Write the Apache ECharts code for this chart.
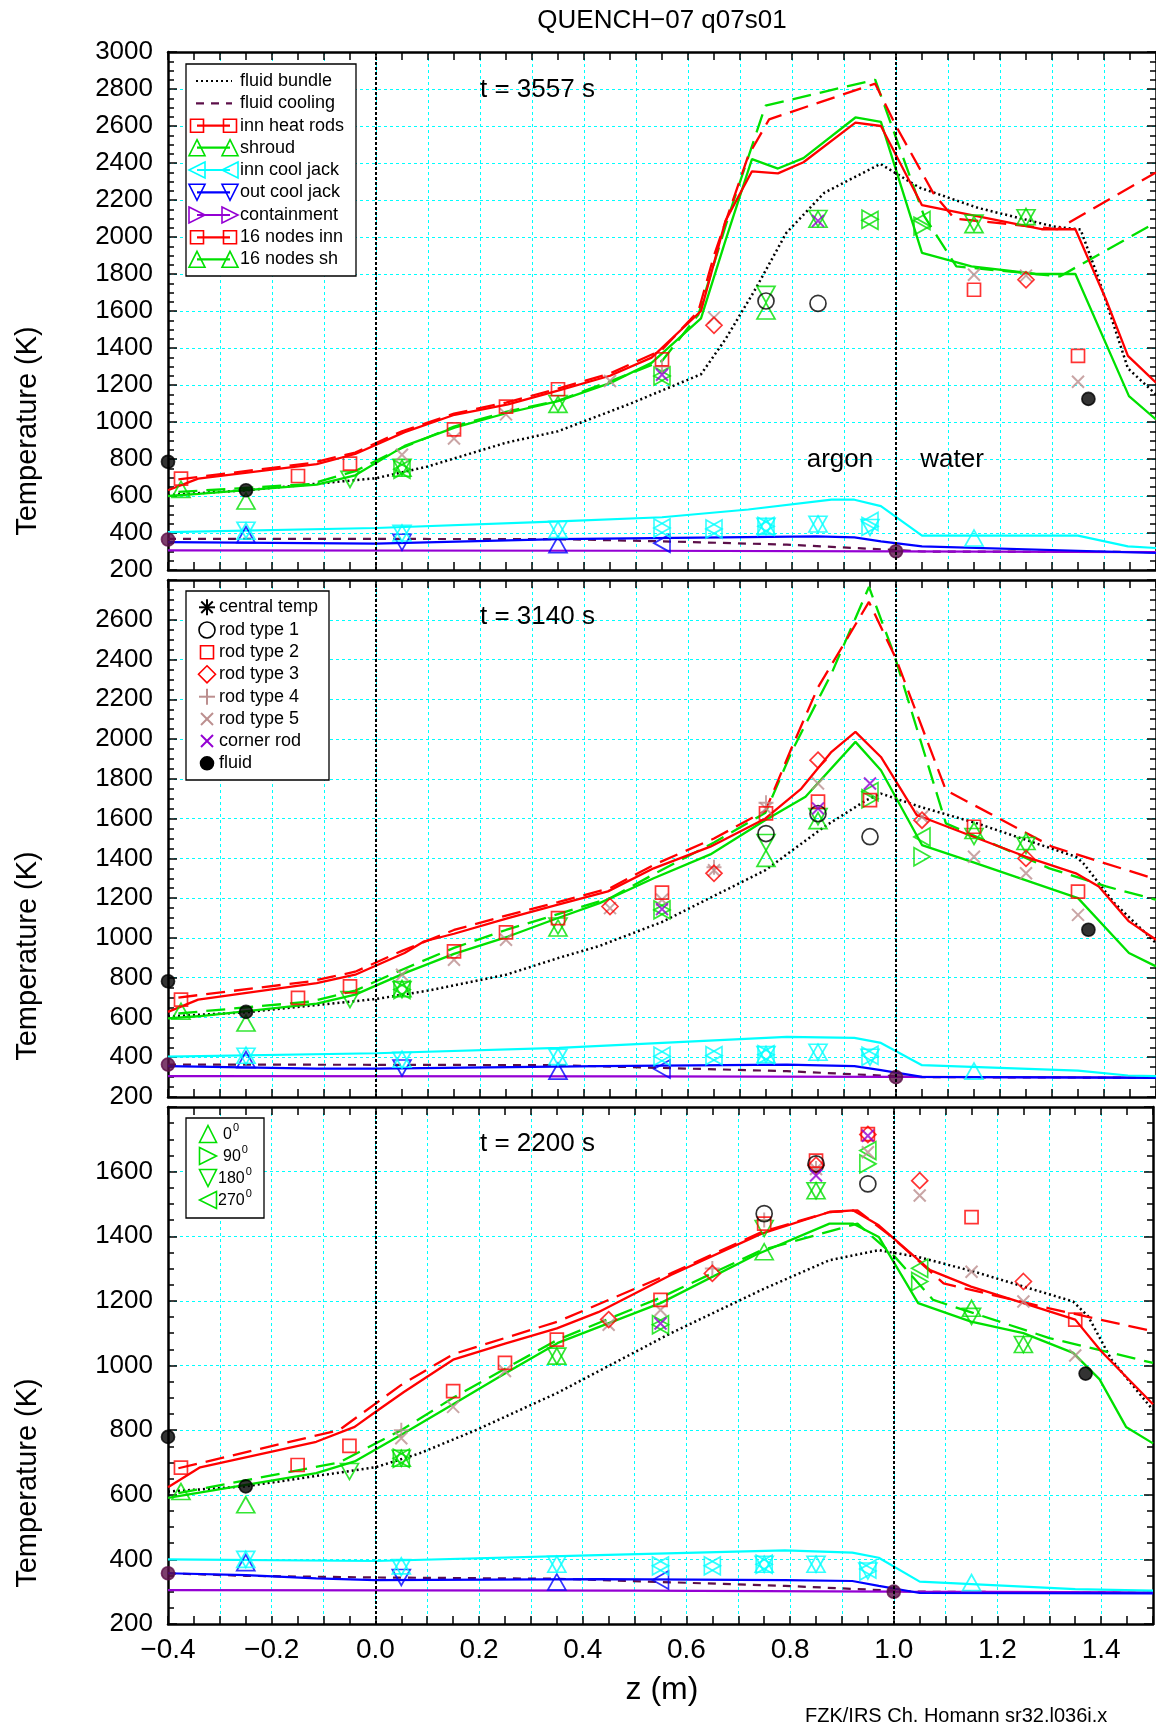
<!DOCTYPE html>
<html>
<head>
<meta charset="utf-8">
<title>QUENCH-07 q07s01</title>
<script src="https://cdn.jsdelivr.net/npm/echarts@6/dist/echarts.min.js"></script>
<style>
html,body{margin:0;padding:0;background:#fff;}
#chart{width:1156px;height:1726px;}
</style>
</head>
<body>
<div id="chart"></div>
<script>
// ---------------- data: axial temperature profiles, z (m) vs T (K) ----------------

// t = 3557 s : calculated profiles
const fluidBundle3557 = [[-0.4,605],[-0.25,631],[0.0,696],[0.1,760],[0.25,888],[0.35,950],[0.49,1100],[0.625,1258],[0.672,1447],[0.73,1720],[0.789,2022],[0.862,2239],[0.97,2395],[1.045,2267],[1.158,2157],[1.303,2057],[1.355,2040],[1.39,1772],[1.446,1290],[1.5,1149]];
const fluidCooling3557 = [[-0.4,368],[0.0,368],[0.35,367],[0.55,355],[0.79,337],[1.0,308],[1.05,300],[1.5,297]];
const innHeatRods3557 = [[-0.4,631],[-0.342,694],[-0.114,772],[-0.04,827],[0.055,945],[0.151,1039],[0.254,1095],[0.35,1170],[0.45,1250],[0.53,1348],[0.625,1600],[0.672,2087],[0.723,2355],[0.773,2344],[0.822,2404],[0.922,2618],[0.971,2600],[1.05,2172],[1.28,2042],[1.345,2042],[1.404,1661],[1.446,1357],[1.5,1213]];
const shroud3557 = [[-0.4,600],[-0.342,612],[-0.114,662],[-0.04,712],[0.055,871],[0.151,970],[0.254,1050],[0.35,1113],[0.45,1210],[0.53,1320],[0.625,1560],[0.672,1980],[0.723,2421],[0.773,2370],[0.822,2426],[0.922,2646],[0.971,2622],[1.05,1914],[1.145,1841],[1.27,1800],[1.345,1800],[1.448,1140],[1.5,1014]];
const innCoolJack3557 = [[-0.4,405],[0.0,427],[0.352,463],[0.55,485],[0.716,527],[0.876,580],[0.92,580],[0.971,545],[1.05,386],[1.35,386],[1.446,328],[1.5,319]];
const outCoolJack3557 = [[-0.4,351],[0.0,343],[0.35,367],[0.847,382],[0.92,376],[0.971,355],[1.05,328],[1.5,292]];
const containment3557 = [[-0.4,306],[0.5,304],[1.0,301],[1.5,297]];
const nodesInn3557 = [[-0.38,690],[-0.125,778],[-0.04,835],[0.05,950],[0.15,1045],[0.25,1105],[0.35,1180],[0.45,1262],[0.55,1390],[0.62,1600],[0.65,1900],[0.716,2440],[0.756,2636],[0.96,2829],[1.0,2600],[1.072,2236],[1.112,2100],[1.31,2042],[1.5,2349]];
const nodesSh3557 = [[-0.38,622],[-0.125,665],[-0.04,735],[0.05,860],[0.15,975],[0.25,1055],[0.35,1115],[0.45,1220],[0.55,1330],[0.62,1580],[0.68,2130],[0.749,2710],[0.96,2850],[1.054,2114],[1.116,1841],[1.315,1787],[1.5,2079]];

// t = 3557 s : measurements
const fluid3557 = [[-0.4,785],[-0.25,631],[1.37,1125]];
const fluidCoolPts3557 = [[-0.4,365],[1.0,301]];
const rod1_3557 = [[0.75,1654],[0.85,1641]];
const rod2_3557 = [[-0.375,694],[-0.15,708],[-0.05,775],[0.15,960],[0.25,1083],[0.35,1177],[0.55,1339],[1.15,1715],[1.35,1357]];
const rod3_3557 = [[0.65,1523],[1.25,1769]];
const rod4_3557 = [[0.55,1300]];
const rod5_3557 = [[0.05,823],[0.15,911],[0.25,1041],[0.45,1222],[0.65,1564],[1.15,1796],[1.25,1791],[1.35,1218]];
const corner3557 = [[0.55,1255],[0.85,2087]];
const sh0_3557 = [[-0.375,636],[-0.25,573],[0.05,750],[0.35,1095],[0.75,1600],[0.85,2096],[1.15,2067],[1.25,2110]];
const sh90_3557 = [[0.05,745],[0.55,1249],[0.95,2096],[1.05,2059]];
const sh180_3557 = [[-0.05,690],[0.05,755],[0.35,1100],[0.75,1690],[0.85,2100],[1.15,2075],[1.25,2104]];
const sh270_3557 = [[0.05,745],[0.55,1249],[0.95,2090],[1.05,2089]];
const icj0_3557 = [[-0.25,410],[0.05,400],[0.35,418],[0.75,436],[0.85,449],[1.15,373]];
const icj90_3557 = [[0.55,427],[0.65,422],[0.75,436],[0.95,436]];
const icj180_3557 = [[-0.25,415],[0.05,398],[0.35,420],[0.75,436],[0.85,447],[0.95,430]];
const icj270_3557 = [[0.55,427],[0.65,422],[0.75,436],[0.95,462]];
const ocj0_3557 = [[-0.25,391],[0.35,337]];
const ocj180_3557 = [[0.05,350]];
const ocj270_3557 = [[0.55,345]];

// t = 3140 s : calculated profiles
const fluidBundle3140 = [[-0.4,605],[-0.25,626],[0.0,693],[0.1,735],[0.25,815],[0.352,900],[0.43,960],[0.55,1080],[0.749,1341],[0.862,1559],[0.943,1693],[0.971,1726],[1.047,1659],[1.156,1576],[1.346,1408],[1.36,1376],[1.42,1175],[1.5,974]];
const fluidCooling3140 = [[-0.4,363],[0.0,362],[0.35,360],[0.55,346],[0.79,330],[1.0,304],[1.05,300],[1.5,297]];
const innHeatRods3140 = [[-0.4,628],[-0.342,690],[-0.114,773],[-0.04,815],[0.055,924],[0.092,982],[0.15,1021],[0.254,1100],[0.35,1167],[0.446,1234],[0.534,1350],[0.643,1459],[0.749,1601],[0.818,1751],[0.876,1936],[0.922,2036],[0.971,1910],[1.04,1618],[1.065,1593],[1.149,1509],[1.25,1408],[1.346,1325],[1.39,1259],[1.448,1083],[1.5,991]];
const shroud3140 = [[-0.4,595],[-0.342,606],[-0.114,670],[-0.04,715],[0.055,823],[0.15,920],[0.254,1007],[0.35,1100],[0.43,1175],[0.534,1300],[0.643,1420],[0.749,1593],[0.826,1710],[0.922,1986],[0.971,1843],[1.05,1467],[1.149,1380],[1.35,1200],[1.448,924],[1.5,857]];
const innCoolJack3140 = [[-0.4,403],[0.0,420],[0.352,447],[0.79,502],[0.92,497],[0.971,472],[1.05,360],[1.35,333],[1.446,308],[1.5,305]];
const outCoolJack3140 = [[-0.4,355],[-0.114,343],[0.0,343],[0.43,355],[0.79,363],[0.92,355],[0.971,335],[1.05,301],[1.5,296]];
const containment3140 = [[-0.4,305],[0.5,304],[1.0,301],[1.5,298]];
const nodesInn3140 = [[-0.38,700],[-0.125,782],[-0.04,830],[0.05,935],[0.15,1040],[0.25,1112],[0.35,1180],[0.45,1250],[0.534,1367],[0.65,1500],[0.749,1640],[0.8,1960],[0.85,2260],[0.948,2690],[1.0,2404],[1.096,1743],[1.3,1459],[1.5,1295]];
const nodesSh3140 = [[-0.38,620],[-0.125,680],[-0.04,735],[0.05,840],[0.15,950],[0.25,1040],[0.35,1120],[0.45,1200],[0.534,1320],[0.65,1480],[0.749,1630],[0.8,1940],[0.876,2330],[0.948,2765],[0.996,2429],[1.096,1576],[1.295,1350],[1.404,1259],[1.5,1192]];

// t = 3140 s : measurements
const fluid3140 = [[-0.4,782],[-0.25,628],[1.37,1041]];
const fluidCoolPts3140 = [[-0.4,363],[1.0,300]];
const rod1_3140 = [[0.75,1525],[0.85,1625],[0.95,1509]];
const rod2_3140 = [[-0.375,690],[-0.15,698],[-0.05,756],[0.15,932],[0.25,1028],[0.35,1100],[0.55,1228],[0.75,1626],[0.85,1685],[0.95,1693],[1.15,1559],[1.35,1233]];
const rod3_3140 = [[0.45,1158],[0.65,1325],[0.85,1894],[1.05,1592],[1.25,1400]];
const rod4_3140 = [[0.65,1355],[0.75,1680]];
const rod5_3140 = [[0.05,815],[0.15,890],[0.25,991],[0.45,1150],[0.55,1192],[0.65,1340],[0.75,1651],[0.85,1777],[1.05,1609],[1.15,1408],[1.25,1325],[1.35,1116]];
const corner3140 = [[0.55,1145],[0.85,1651],[0.95,1777]];
const sh0_3140 = [[-0.375,631],[-0.25,572],[0.05,745],[0.35,1050],[0.75,1400],[0.85,1590],[1.15,1540],[1.25,1485]];
const sh90_3140 = [[0.05,740],[0.55,1141],[0.95,1700],[1.05,1408]];
const sh180_3140 = [[-0.05,690],[0.05,740],[0.35,1060],[0.75,1480],[0.85,1610],[1.15,1510],[1.25,1465]];
const sh270_3140 = [[0.05,740],[0.55,1141],[0.95,1735],[1.05,1508]];
const icj0_3140 = [[-0.25,410],[0.05,390],[0.35,403],[0.75,413],[0.85,425],[1.15,330]];
const icj90_3140 = [[0.55,405],[0.65,408],[0.75,413],[0.95,405]];
const icj180_3140 = [[-0.25,405],[0.05,385],[0.35,400],[0.75,413],[0.85,425],[0.95,400]];
const icj270_3140 = [[0.55,405],[0.65,408],[0.75,413],[0.95,410]];
const ocj0_3140 = [[-0.25,388],[0.35,330]];
const ocj180_3140 = [[0.05,346]];
const ocj270_3140 = [[0.55,341]];

// t = 2200 s : calculated profiles
const fluidBundle2200 = [[-0.4,610],[-0.25,626],[0.0,685],[0.085,728],[0.194,800],[0.352,916],[0.57,1100],[0.745,1234],[0.876,1326],[0.971,1357],[1.047,1336],[1.156,1290],[1.346,1198],[1.375,1152],[1.42,1018],[1.5,862]];
const fluidCooling2200 = [[-0.4,357],[-0.25,349],[0.0,344],[0.352,340],[0.79,318],[1.0,303],[1.05,300],[1.5,297]];
const innHeatRods2200 = [[-0.4,623],[-0.338,685],[-0.114,764],[-0.04,810],[0.0,856],[0.055,918],[0.15,1018],[0.25,1068],[0.35,1115],[0.43,1165],[0.57,1280],[0.745,1408],[0.876,1475],[0.922,1480],[0.971,1434],[1.07,1295],[1.149,1244],[1.25,1193],[1.35,1142],[1.4,1044],[1.5,880]];
const shroud2200 = [[-0.4,590],[-0.114,667],[-0.04,703],[0.055,790],[0.15,880],[0.25,975],[0.352,1070],[0.55,1193],[0.733,1342],[0.876,1439],[0.922,1439],[0.971,1398],[1.047,1193],[1.149,1136],[1.25,1100],[1.346,1039],[1.397,957],[1.448,810],[1.5,759]];
const innCoolJack2200 = [[-0.4,400],[0.0,395],[0.43,413],[0.79,428],[0.92,421],[0.971,405],[1.05,331],[1.35,308],[1.446,305],[1.5,303]];
const outCoolJack2200 = [[-0.4,357],[-0.25,351],[-0.114,341],[0.0,336],[0.43,339],[0.79,336],[0.92,333],[0.971,318],[1.05,296],[1.5,295]];
const containment2200 = [[-0.4,305],[0.5,303],[1.0,300],[1.5,298]];
const nodesInn2200 = [[-0.38,682],[-0.07,800],[0.05,940],[0.15,1035],[0.25,1085],[0.352,1136],[0.57,1285],[0.745,1413],[0.876,1475],[0.93,1480],[0.996,1398],[1.096,1254],[1.3,1177],[1.5,1106]];
const nodesSh2200 = [[-0.38,605],[-0.07,700],[0.05,800],[0.15,900],[0.25,990],[0.352,1080],[0.55,1210],[0.745,1357],[0.93,1439],[1.0,1340],[1.076,1203],[1.3,1085],[1.5,1008]];

// t = 2200 s : measurements
const fluid2200 = [[-0.4,779],[-0.25,626],[1.37,975]];
const fluidCoolPts2200 = [[-0.4,357],[1.0,300]];
const rod1_2200 = [[0.75,1470],[0.85,1624],[0.95,1562]];
const rod2_2200 = [[-0.375,684],[-0.15,692],[-0.05,751],[0.15,921],[0.25,1008],[0.35,1080],[0.55,1203],[0.75,1439],[0.85,1634],[0.95,1716],[1.15,1459],[1.35,1142]];
const rod3_2200 = [[0.45,1142],[0.65,1285],[0.85,1620],[0.95,1715],[1.05,1572],[1.25,1260]];
const rod4_2200 = [[0.05,800],[0.65,1300],[0.75,1450],[0.85,1610]];
const rod5_2200 = [[0.05,775],[0.15,872],[0.25,983],[0.45,1126],[0.55,1172],[0.85,1608],[0.95,1660],[1.05,1526],[1.15,1290],[1.25,1198],[1.35,1031]];
const corner2200 = [[0.55,1130],[0.85,1588],[0.95,1711]];
const sh0_2200 = [[-0.375,610],[-0.25,569],[0.05,713],[0.35,1029],[0.75,1352],[0.85,1541],[1.15,1177],[1.25,1065]];
const sh90_2200 = [[0.05,713],[0.55,1126],[0.95,1624],[1.05,1260]];
const sh180_2200 = [[-0.05,672],[0.05,713],[0.35,1029],[0.75,1424],[0.85,1541],[1.15,1152],[1.25,1065]];
const sh270_2200 = [[0.05,713],[0.55,1126],[0.95,1665],[1.05,1301]];
const icj0_2200 = [[-0.25,400],[0.05,380],[0.35,385],[0.75,385],[0.85,385],[1.15,328]];
const icj90_2200 = [[0.55,380],[0.65,380],[0.75,385],[0.95,364]];
const icj180_2200 = [[-0.25,400],[0.05,375],[0.35,385],[0.75,385],[0.85,385],[0.95,364]];
const icj270_2200 = [[0.55,380],[0.65,380],[0.75,385],[0.95,370]];
const ocj0_2200 = [[-0.25,390],[0.35,330]];
const ocj180_2200 = [[0.05,344]];
const ocj270_2200 = [[0.55,336]];

// axis ranges and labels
const zMin = -0.4, zMax = 1.5;
const zLabelValues = [-0.4,-0.2,0.0,0.2,0.4,0.6,0.8,1.0,1.2,1.4];
const tMin = 200;
const tMax = [3000, 2800, 1800];
const timeLabels = ['t = 3557 s', 't = 3140 s', 't = 2200 s'];
const lineLegend = ['fluid bundle','fluid cooling','inn heat rods','shroud','inn cool jack','out cool jack','containment','16 nodes inn','16 nodes sh'];
const rodLegend = ['central temp','rod type 1','rod type 2','rod type 3','rod type 4','rod type 5','corner rod','fluid'];
const angleLegend = ['0','90','180','270'];

// ---------------- styling / layout ----------------
const FONT = '"Liberation Sans", Arial, Helvetica, sans-serif';
const COL = {red:'#ff0000', green:'#00e000', cyan:'#00ffff', blue:'#0000ff', violet:'#9400d3', cool:'#5c0f49', rosy:'#bc8f8f', black:'#000000'};
const GRID_LEFT = 168, GRID_WIDTH = 991;
const gridTop = [52, 580, 1107];
const gridHeight = [518, 517, 517];
const PLUS = 'path://M5,0L5,10M0,5L10,5';
const CROSS = 'path://M0,0L10,10M10,0L0,10';

const panels = [
  {lines:[fluidCooling3557,containment3557,outCoolJack3557,innCoolJack3557,fluidBundle3557,shroud3557,nodesSh3557,innHeatRods3557,nodesInn3557],
   sh:[sh0_3557,sh90_3557,sh180_3557,sh270_3557], icj:[icj0_3557,icj90_3557,icj180_3557,icj270_3557], ocj:[ocj0_3557,ocj180_3557,ocj270_3557],
   rods:[rod1_3557,rod2_3557,rod3_3557,rod4_3557,rod5_3557,corner3557], fluid:fluid3557, cool:fluidCoolPts3557},
  {lines:[fluidCooling3140,containment3140,outCoolJack3140,innCoolJack3140,fluidBundle3140,shroud3140,nodesSh3140,innHeatRods3140,nodesInn3140],
   sh:[sh0_3140,sh90_3140,sh180_3140,sh270_3140], icj:[icj0_3140,icj90_3140,icj180_3140,icj270_3140], ocj:[ocj0_3140,ocj180_3140,ocj270_3140],
   rods:[rod1_3140,rod2_3140,rod3_3140,rod4_3140,rod5_3140,corner3140], fluid:fluid3140, cool:fluidCoolPts3140},
  {lines:[fluidCooling2200,containment2200,outCoolJack2200,innCoolJack2200,fluidBundle2200,shroud2200,nodesSh2200,innHeatRods2200,nodesInn2200],
   sh:[sh0_2200,sh90_2200,sh180_2200,sh270_2200], icj:[icj0_2200,icj90_2200,icj180_2200,icj270_2200], ocj:[ocj0_2200,ocj180_2200,ocj270_2200],
   rods:[rod1_2200,rod2_2200,rod3_2200,rod4_2200,rod5_2200,corner2200], fluid:fluid2200, cool:fluidCoolPts2200}
];

// line style per profile (same order as panels[].lines)
const lineStyles = [
  {color:COL.cool, type:[8,7], width:2.2},
  {color:COL.violet, type:'solid', width:2.2},
  {color:COL.blue, type:'solid', width:2.2},
  {color:COL.cyan, type:'solid', width:2.2},
  {color:COL.black, type:[2,3], width:2.5},
  {color:COL.green, type:'solid', width:2.3},
  {color:COL.green, type:[19,9], width:2.3},
  {color:COL.red, type:'solid', width:2.3},
  {color:COL.red, type:[19,9], width:2.3}
];

function lineSeries(g, data, st, extra) {
  return Object.assign({type:'line', xAxisIndex:2*g, yAxisIndex:2*g, data, showSymbol:false, symbol:'none',
    silent:true, animation:false, z:3, lineStyle:{color:st.color, type:st.type, width:st.width}}, extra || {});
}
function markSeries(g, data, symbol, size, color, opt) {
  opt = opt || {};
  return {type:'scatter', xAxisIndex:2*g, yAxisIndex:2*g, data, symbol, symbolSize:size, symbolRotate:opt.rot || 0,
    silent:true, animation:false, z:4,
    itemStyle:{color: opt.filled ? color : 'rgba(0,0,0,0)', borderColor:color, borderWidth: opt.bw || 1.7}};
}

const TRI = [18,16];
const series = [];
panels.forEach((p, g) => {
  p.lines.forEach((d, i) => {
    const extra = (i === 1) ? {markLine:{silent:true, animation:false, symbol:['none','none'], label:{show:false},
      lineStyle:{color:'#000', type:[3,2], width:2}, data:[{xAxis:0},{xAxis:1}]}} : null;
    series.push(lineSeries(g, d, lineStyles[i], extra));
  });
  // outer cooling jacket
  series.push(markSeries(g, p.ocj[0], 'triangle', TRI, COL.blue));
  series.push(markSeries(g, p.ocj[1], 'triangle', TRI, COL.blue, {rot:180}));
  series.push(markSeries(g, p.ocj[2], 'triangle', TRI, COL.blue, {rot:90}));
  // inner cooling jacket
  series.push(markSeries(g, p.icj[0], 'triangle', TRI, COL.cyan));
  series.push(markSeries(g, p.icj[1], 'triangle', TRI, COL.cyan, {rot:-90}));
  series.push(markSeries(g, p.icj[2], 'triangle', TRI, COL.cyan, {rot:180}));
  series.push(markSeries(g, p.icj[3], 'triangle', TRI, COL.cyan, {rot:90}));
  // shroud thermocouples 0/90/180/270 deg
  series.push(markSeries(g, p.sh[0], 'triangle', TRI, COL.green));
  series.push(markSeries(g, p.sh[1], 'triangle', TRI, COL.green, {rot:-90}));
  series.push(markSeries(g, p.sh[2], 'triangle', TRI, COL.green, {rot:180}));
  series.push(markSeries(g, p.sh[3], 'triangle', TRI, COL.green, {rot:90}));
  // rods
  series.push(markSeries(g, p.rods[4], CROSS, 12, COL.rosy, {bw:2}));
  series.push(markSeries(g, p.rods[3], PLUS, 15, COL.rosy, {bw:2}));
  series.push(markSeries(g, p.rods[2], 'diamond', 16, COL.red));
  series.push(markSeries(g, p.rods[1], 'rect', 13, COL.red));
  series.push(markSeries(g, p.rods[0], 'circle', 16, COL.black));
  series.push(markSeries(g, p.rods[5], CROSS, 12, COL.violet, {bw:2}));
  series.push(markSeries(g, p.fluid, 'circle', 13, COL.black, {filled:true}));
  series.push(markSeries(g, p.cool, 'circle', 13, COL.cool, {filled:true}));
});

// ---------------- axes ----------------
const grids = [], xAxes = [], yAxes = [];
const frame = {show:true, onZero:false, lineStyle:{color:'#000', width:2.5}};
const tick = (len) => ({show:true, inside:true, length:len, lineStyle:{color:'#000', width:1.5}});
const cyanGrid = {show:true, lineStyle:{color:'#00ffff', type:[3,3], width:1}};
function zLabel(v) {
  const k = Math.round(v * 10);
  if (!zLabelValues.some(z => Math.round(z * 10) === k)) return '';
  return (k < 0 ? '\u2212' : '') + (Math.abs(k) / 10).toFixed(1);
}
const tLabel = v => String(Math.round(v));
for (let g = 0; g < 3; g++) {
  grids.push({left:GRID_LEFT, top:gridTop[g], width:GRID_WIDTH, height:gridHeight[g], containLabel:false});
  const xc = {type:'value', gridIndex:g, min:zMin, max:zMax, interval:0.1};
  xAxes.push(Object.assign({}, xc, {position:'bottom', axisLine:frame, axisTick:tick(8),
    minorTick:{show:true, splitNumber:2, length:8, lineStyle:{color:'#000', width:1.5}},
    splitLine:cyanGrid, minorSplitLine:{show:false},
    axisLabel:{show:g === 2, formatter:zLabel, fontSize:28, fontFamily:FONT, color:'#000', margin:12, showMinLabel:true, showMaxLabel:true}}));
  xAxes.push(Object.assign({}, xc, {position:'top', axisLine:frame, axisTick:tick(8),
    minorTick:{show:true, splitNumber:2, length:8, lineStyle:{color:'#000', width:1.5}},
    splitLine:{show:false}, axisLabel:{show:false}}));
  const yc = {type:'value', gridIndex:g, min:tMin, max:tMax[g], interval:200};
  yAxes.push(Object.assign({}, yc, {position:'left', axisLine:frame, axisTick:tick(9),
    minorTick:{show:true, splitNumber:4, length:6, lineStyle:{color:'#000', width:1.5}},
    splitLine:cyanGrid,
    axisLabel:{formatter:tLabel, fontSize:26, fontFamily:FONT, color:'#000', margin:15, showMinLabel:true, showMaxLabel:g === 0}}));
  yAxes.push(Object.assign({}, yc, {position:'right', axisLine:frame, axisTick:tick(9),
    minorTick:{show:true, splitNumber:4, length:6, lineStyle:{color:'#000', width:1.5}},
    splitLine:{show:false}, axisLabel:{show:false}}));
}

// ---------------- text and legends ----------------
const graphic = [];
function txt(text, x, y, size, align, rot) {
  graphic.push({type:'text', x, y, rotation:rot || 0, z:102, silent:true,
    style:{text, font:size + 'px ' + FONT, fill:'#000', align:align || 'left', verticalAlign:'middle',
      textAlign:align || 'left', textVerticalAlign:'middle'}});
}
function sym(kind, cx, cy, s, color, filled) {
  const h = s / 2;
  const st = {fill: filled ? color : 'none', stroke:color, lineWidth:1.6};
  const poly = pts => ({type:'polygon', shape:{points:pts}, style:st, z:101, silent:true});
  const seg = (x1, y1, x2, y2) => ({type:'line', shape:{x1, y1, x2, y2}, style:{stroke:color, lineWidth:2}, z:101, silent:true});
  switch (kind) {
    case 'square': return [{type:'rect', shape:{x:cx - h, y:cy - h, width:s, height:s}, style:st, z:101, silent:true}];
    case 'circle': return [{type:'circle', shape:{cx, cy, r:h}, style:st, z:101, silent:true}];
    case 'up': return [poly([[cx, cy - h], [cx + h, cy + h], [cx - h, cy + h]])];
    case 'down': return [poly([[cx - h, cy - h], [cx + h, cy - h], [cx, cy + h]])];
    case 'right': return [poly([[cx - h, cy - h], [cx + h, cy], [cx - h, cy + h]])];
    case 'left': return [poly([[cx + h, cy - h], [cx - h, cy], [cx + h, cy + h]])];
    case 'diamond': return [poly([[cx, cy - h], [cx + h, cy], [cx, cy + h], [cx - h, cy]])];
    case 'plus': return [seg(cx - h, cy, cx + h, cy), seg(cx, cy - h, cx, cy + h)];
    case 'cross': return [seg(cx - h, cy - h, cx + h, cy + h), seg(cx - h, cy + h, cx + h, cy - h)];
    case 'star': {
      const d = h * 0.72;
      return [seg(cx - h, cy, cx + h, cy), seg(cx, cy - h, cx, cy + h), seg(cx - d, cy - d, cx + d, cy + d), seg(cx - d, cy + d, cx + d, cy - d)];
    }
  }
  return [];
}
function add(els) { els.forEach(e => graphic.push(e)); }
function box(x, y, w, h) {
  graphic.push({type:'rect', shape:{x, y, width:w, height:h}, style:{fill:'#fff', stroke:'#000', lineWidth:1.3}, z:100, silent:true});
}
function sampleLine(x1, x2, y, color, dash) {
  graphic.push({type:'line', shape:{x1, y1:y, x2, y2:y}, style:{stroke:color, lineWidth:2.2, lineDash:dash || null}, z:101, silent:true});
}

// title and annotations
txt('QUENCH\u221207 q07s01', 662, 21, 26, 'center');
for (let g = 0; g < 3; g++) {
  txt(timeLabels[g], 480, [90, 617, 1144][g], 26, 'left');
  txt('Temperature (K)', 28, [431, 956, 1483][g], 29, 'center', Math.PI / 2);
}
txt('argon', 840, 460, 26, 'center');
txt('water', 952, 460, 26, 'center');
txt('z (m)', 662, 1690, 32, 'center');
txt('FZK/IRS Ch. Homann sr32.l036i.x', 805, 1716, 20, 'left');

// legend: calculated profiles
box(186, 64, 170, 212);
const lx1 = 197, lx2 = 230, ltx = 240;
const lrow = [81, 103.3, 125.7, 147.7, 170, 192.3, 215, 237.3, 259.3];
sampleLine(lx1 - 1, lx2 + 2, lrow[0], COL.black, [2, 3]);
sampleLine(lx1 - 1, lx2 + 2, lrow[1], COL.cool, [8, 7]);
const lineMarks = [['square', COL.red], ['up', COL.green], ['left', COL.cyan], ['down', COL.blue], ['right', COL.violet], ['square', COL.red], ['up', COL.green]];
lineMarks.forEach((m, i) => {
  const y = lrow[i + 2];
  sampleLine(lx1, lx2, y, m[1]);
  const s = m[0] === 'square' ? 13 : 16;
  add(sym(m[0], lx1, y, s, m[1]));
  add(sym(m[0], lx2, y, s, m[1]));
});
lineLegend.forEach((t, i) => txt(t, ltx, lrow[i], 18, 'left'));

// legend: measurement types
box(186, 591, 143, 189);
const rrow = [607.3, 630, 652.3, 674.3, 696.7, 719, 741, 763.3];
const rodMarks = [['star', COL.black, 16], ['circle', COL.black, 16], ['square', COL.red, 13], ['diamond', COL.red, 17], ['plus', COL.rosy, 16], ['cross', COL.rosy, 12], ['cross', COL.violet, 12], ['circle', COL.black, 13, true]];
rodMarks.forEach((m, i) => add(sym(m[0], 207, rrow[i], m[2], m[1], m[3])));
rodLegend.forEach((t, i) => txt(t, 219, rrow[i], 18, 'left'));

// legend: shroud thermocouple orientations
box(186, 1118, 78, 100);
const arow = [1134, 1156, 1178, 1200];
const angleMarks = ['up', 'right', 'down', 'left'];
const measure = document.createElement('canvas').getContext('2d');
angleMarks.forEach((k, i) => {
  add(sym(k, 208, arow[i], 17, COL.green));
  const tx = angleLegend[i].length > 2 ? 218 : 223;
  txt(angleLegend[i], tx, arow[i] + 1, 16, 'left');
  measure.font = '16px ' + FONT;
  const w = measure.measureText(angleLegend[i]).width;
  txt('0', tx + w + 1, arow[i] - 6, 11, 'left');
});

// ---------------- chart ----------------
const chart = echarts.init(document.getElementById('chart'), null, {renderer:'canvas'});
chart.setOption({
  backgroundColor:'#ffffff',
  animation:false,
  textStyle:{fontFamily:FONT},
  grid:grids,
  xAxis:xAxes,
  yAxis:yAxes,
  series,
  graphic
});
</script>
</body>
</html>
